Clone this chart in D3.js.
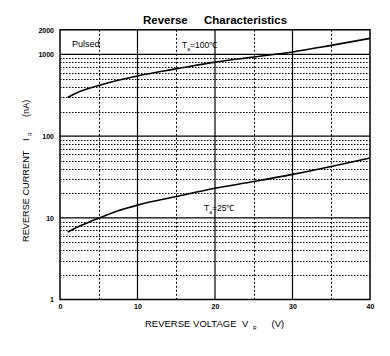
<!DOCTYPE html>
<html>
<head>
<meta charset="utf-8">
<script src="https://cdn.jsdelivr.net/npm/d3@7"></script>
<style>
  body { margin: 0; background: #fff; }
  svg { display: block; font-family: "Liberation Sans", Arial, sans-serif; }
</style>
</head>
<body>
<svg id="chart" width="390" height="356"></svg>
<script>
// ---- data ----
const voltage100 = [1, 2, 3, 4, 5, 7.5, 10, 15, 20, 25, 30, 35, 40];
const current100 = [297, 333, 363, 391, 417, 482, 545, 665, 805, 930, 1070, 1290, 1570];
const voltage25 = [1, 2, 3, 4, 5, 7.5, 10, 15, 20, 25, 30, 35, 40];
const current25 = [6.7, 7.5, 8.3, 9.1, 9.9, 12.2, 14.3, 18.2, 23, 27.8, 34, 42.5, 54];
const xTicks = [0, 10, 20, 30, 40];
const xMinorTicks = [5, 15, 25, 35];
const yTicks = [1, 10, 100, 1000, 2000];
const yMajorGrid = [10, 100, 1000];
const yMinorGrid = [2,3,4,5,6,7,8,9,20,30,40,50,60,70,80,90,200,300,400,500,600,700,800,900];

const svg = d3.select("#chart");
const x = d3.scaleLinear().domain([0, 40]).range([60, 370]);
const y = d3.scaleLog().domain([1, 2000]).range([299.5, 29.8]);

const g = svg.append("g");

// minor grid
g.selectAll("line.yminor").data(yMinorGrid).enter().append("line")
  .attr("x1", x(0)).attr("x2", x(40))
  .attr("y1", d => Math.round(y(d)) + 0.5).attr("y2", d => Math.round(y(d)) + 0.5)
  .attr("stroke", "#000").attr("stroke-width", 1).attr("stroke-dasharray", "1.5,1.5");
g.selectAll("line.xminor").data(xMinorTicks).enter().append("line")
  .attr("x1", d => Math.round(x(d)) + 0.5).attr("x2", d => Math.round(x(d)) + 0.5)
  .attr("y1", y(2000)).attr("y2", y(1))
  .attr("stroke", "#000").attr("stroke-width", 1).attr("stroke-dasharray", "2,2");

// major grid
g.selectAll("line.ymajor").data(yMajorGrid).enter().append("line")
  .attr("x1", x(0)).attr("x2", x(40))
  .attr("y1", d => y(d)).attr("y2", d => y(d))
  .attr("stroke", "#000").attr("stroke-width", 1.2);
g.selectAll("line.xmajor").data([10, 20, 30]).enter().append("line")
  .attr("x1", d => x(d)).attr("x2", d => x(d))
  .attr("y1", y(2000)).attr("y2", y(1))
  .attr("stroke", "#000").attr("stroke-width", 1.2);

// border
g.append("rect")
  .attr("x", x(0)).attr("y", y(2000))
  .attr("width", x(40) - x(0)).attr("height", y(1) - y(2000))
  .attr("fill", "none").attr("stroke", "#000").attr("stroke-width", 1.5);

// curves
const line = d3.line().x(d => x(d[0])).y(d => y(d[1])).curve(d3.curveMonotoneX);
g.append("path").datum(voltage100.map((v, i) => [v, current100[i]]))
  .attr("d", line).attr("fill", "none").attr("stroke", "#000").attr("stroke-width", 1.6);
g.append("path").datum(voltage25.map((v, i) => [v, current25[i]]))
  .attr("d", line).attr("fill", "none").attr("stroke", "#000").attr("stroke-width", 1.6);

// axes labels
const yAxis = d3.axisLeft(y).tickValues(yTicks).tickSize(0).tickPadding(0).tickFormat(d3.format("d"));
const ya = svg.append("g").attr("transform", "translate(54,0)").call(yAxis);
ya.select(".domain").remove();
ya.selectAll("text").attr("font-size", 7).attr("font-weight", "bold")
  .attr("font-family", "Liberation Sans, Arial, sans-serif").attr("fill", "#000");

const xAxis = d3.axisBottom(x).tickValues(xTicks).tickSize(0).tickPadding(0).tickFormat(d3.format("d"));
const xa = svg.append("g").attr("transform", "translate(0,304)").call(xAxis);
xa.select(".domain").remove();
xa.selectAll("text").attr("font-size", 7).attr("font-weight", "bold")
  .attr("font-family", "Liberation Sans, Arial, sans-serif").attr("fill", "#000");

// title
svg.append("text").attr("x", 143).attr("y", 24).attr("font-size", 11.5).attr("font-weight", "bold").text("Reverse");
svg.append("text").attr("x", 204).attr("y", 24).attr("font-size", 11.5).attr("font-weight", "bold").text("Characteristics");

// annotations
svg.append("text").attr("x", 72).attr("y", 46.5).attr("font-size", 9).text("Pulsed");

function tempLabel(x0, y0, temp) {
  const t = svg.append("text").attr("x", x0).attr("y", y0).attr("font-size", 8.5);
  t.append("tspan").text("T");
  t.append("tspan").attr("font-size", 5).attr("dy", 3).text("a");
  t.append("tspan").attr("dy", -3).text("=" + temp + "℃");
}
tempLabel(182, 47.5, 100);
tempLabel(204, 210.5, 25);

// x axis title
svg.append("text").attr("x", 145).attr("y", 327).attr("font-size", 9.5).text("REVERSE VOLTAGE");
svg.append("text").attr("x", 242).attr("y", 327).attr("font-size", 9.5).text("V");
svg.append("text").attr("x", 253).attr("y", 330).attr("font-size", 5).text("R");
svg.append("text").attr("x", 271.5).attr("y", 327).attr("font-size", 9.5).text("(V)");

// y axis title (rotated)
const yt = svg.append("g").attr("transform", "translate(29,0) rotate(-90)");
yt.append("text").attr("x", -242).attr("y", 0).attr("font-size", 9.2).text("REVERSE CURRENT");
yt.append("text").attr("x", -141).attr("y", 0).attr("font-size", 9.2).text("I");
yt.append("text").attr("x", -136).attr("y", 3).attr("font-size", 5).text("R");
yt.append("text").attr("x", -117).attr("y", 0).attr("font-size", 9.2).text("(nA)");
</script>
</body>
</html>
